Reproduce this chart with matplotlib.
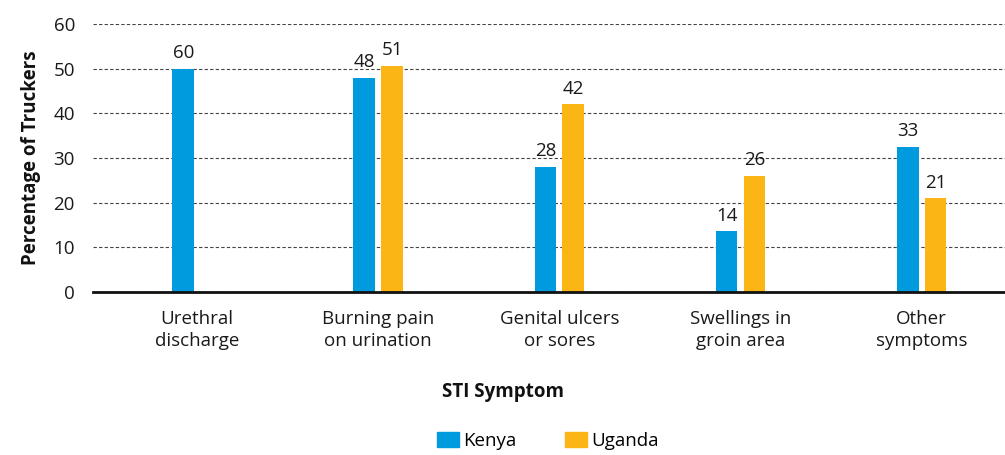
import matplotlib
matplotlib.use("Agg")
import matplotlib.pyplot as plt
from matplotlib.patches import Patch
import numpy as np

plt.rcParams['font.family'] = ['Open Sans', 'DejaVu Sans']

categories = ["Urethral\ndischarge", "Burning pain\non urination", "Genital ulcers\nor sores",
              "Swellings in\ngroin area", "Other\nsymptoms"]
kenya_values = [50, 48, 28, 13.6, 32.5]
kenya_labels = ["60", "48", "28", "14", "33"]
uganda_values = [None, 50.6, 42, 26, 21]
uganda_labels = [None, "51", "42", "26", "21"]
yticks = [0, 10, 20, 30, 40, 50, 60]

kenya_color = "#009ADE"
uganda_color = "#FBB615"
txt = '#1a1a1a'
fs = 13.5

fig = plt.figure(figsize=(10.05, 4.55), dpi=100)
ax = fig.add_axes([93/1005, 1-292/455, 1-93/1005, (292-24)/455])

x = np.arange(len(categories))
w = 0.12
off = 0.077
for i in range(len(categories)):
    kv = kenya_values[i]
    uv = uganda_values[i]
    ax.bar(x[i] - off, kv, w, color=kenya_color, zorder=3)
    ax.text(x[i] - off, kv + 1.5, kenya_labels[i], ha='center', va='bottom', fontsize=fs, color=txt)
    if uv is not None:
        ax.bar(x[i] + off, uv, w, color=uganda_color, zorder=3)
        ax.text(x[i] + off, uv + 1.5, uganda_labels[i], ha='center', va='bottom', fontsize=fs, color=txt)

ax.set_ylim(0, 60)
ax.set_xlim(-0.575, 4.46)
ax.set_yticks(yticks)
ax.set_yticklabels([str(t) for t in yticks], fontsize=fs, color=txt)
ax.set_xticks(x)
ax.set_xticklabels(categories, fontsize=fs, color=txt, linespacing=1.3)
ax.tick_params(axis='x', length=0, pad=13)
ax.tick_params(axis='y', length=0, pad=13)

ax.yaxis.grid(True, linestyle=(0, (3, 2)), color='#444444', linewidth=0.8, zorder=0)
for s in ['top', 'right', 'left']:
    ax.spines[s].set_visible(False)
ax.spines['bottom'].set_linewidth(2)
ax.spines['bottom'].set_color('#111111')
ax.spines['bottom'].set_zorder(4)

ax.set_ylabel("Percentage of Truckers", fontsize=13.5, fontweight='bold', color='#111111', labelpad=9)
fig.text(0.5, 1-392/455, "STI Symptom", ha='center', va='center', fontsize=13.5, fontweight='bold', color='#111111')

handles = [Patch(color=kenya_color, label="Kenya"), Patch(color=uganda_color, label="Uganda")]
leg = fig.legend(handles=handles, loc='center', bbox_to_anchor=(548/1005, 1-441/455), ncol=2, frameon=False,
                 fontsize=fs, handlelength=1.15, handleheight=0.8, columnspacing=2.6, handletextpad=0.25)

fig.savefig("out.png", dpi=100)
